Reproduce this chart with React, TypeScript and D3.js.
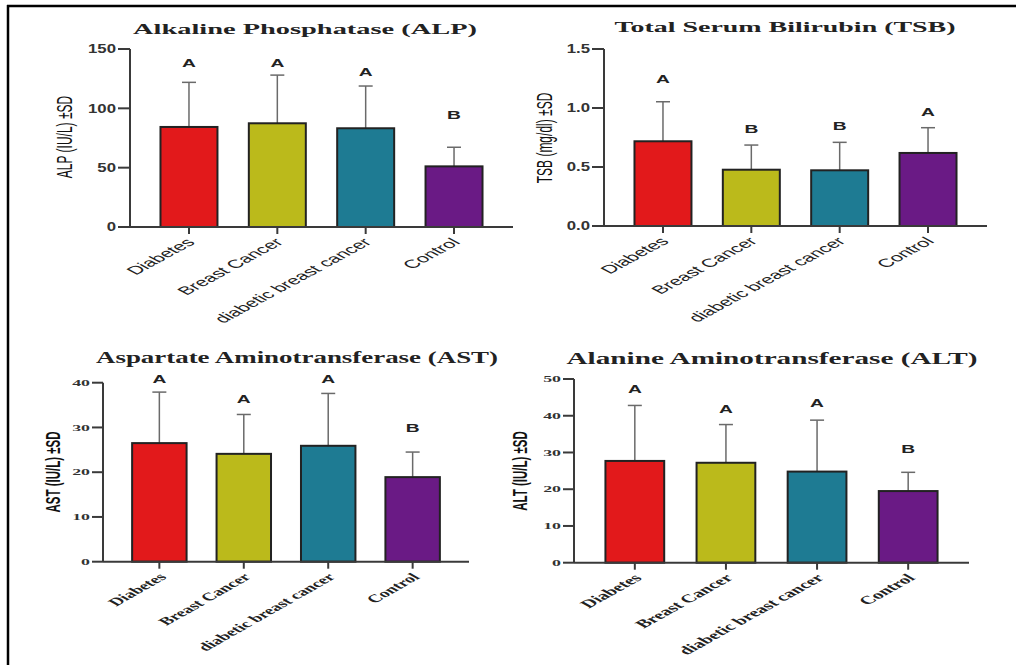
import React, { useEffect, useRef } from 'react';
import * as d3 from 'd3';

// groups shared by all four panels
const groups = ['Diabetes', 'Breast Cancer', 'diabetic breast cancer', 'Control'];
const barColors = ['#e2191b', '#bbba1b', '#1e7b93', '#6a1a85'];

// ALP
const alpMean = [84.3, 87.4, 83.2, 51.1];
const alpSD = [37.6, 40.6, 35.6, 16.1];
const alpLetters = ['A', 'A', 'A', 'B'];
const alpLetterAt = [138, 138, 131, 94];
const alpTicks = [0, 50, 100, 150];

// TSB
const tsbMean = [0.718, 0.477, 0.472, 0.619];
const tsbSD = [0.335, 0.209, 0.237, 0.214];
const tsbLetters = ['A', 'B', 'B', 'A'];
const tsbLetterAt = [1.25, 0.82, 0.85, 0.97];
const tsbTicks = [0, 0.5, 1.0, 1.5];

// AST
const astMean = [26.5, 24.1, 25.9, 18.9];
const astSD = [11.4, 8.8, 11.7, 5.6];
const astLetters = ['A', 'A', 'A', 'B'];
const astLetterAt = [40.8, 36.4, 40.8, 29.9];
const astTicks = [0, 10, 20, 30, 40];

// ALT
const altMean = [27.7, 27.2, 24.8, 19.5];
const altSD = [15.1, 10.4, 14.0, 5.1];
const altLetters = ['A', 'A', 'A', 'B'];
const altLetterAt = [47.3, 41.8, 43.5, 31.0];
const altTicks = [0, 10, 20, 30, 40, 50];

const sans = '"Liberation Sans", Arial, sans-serif';
const serif = '"Liberation Serif", "Times New Roman", serif';

const panels = [
    {
        title: 'Alkaline Phosphatase (ALP)', yLabel: 'ALP (IU/L) ±SD',
        mean: alpMean, sd: alpSD, letters: alpLetters, letterAt: alpLetterAt, ticks: alpTicks, fmt: d3.format('d'),
        x0: 130, x1: 513, yTop: 49, yBottom: 227,
        titleX: 305, titleY: 34, titleW: 344, titleSize: 15,
        yLabX: 72, yLabY: 137, yLabWeight: 'normal', yLabSize: 12,
        tickFont: sans, tickSize: 12, tickSx: 1.4, tickLen: 12,
        xFont: sans, xWeight: 'normal', xSize: 11.7, xSx: 1.85, xOff: 7,
    },
    {
        title: 'Total Serum Bilirubin (TSB)', yLabel: 'TSB (mg/dl) ±SD',
        mean: tsbMean, sd: tsbSD, letters: tsbLetters, letterAt: tsbLetterAt, ticks: tsbTicks, fmt: d3.format('.1f'),
        x0: 604, x1: 987, yTop: 49, yBottom: 226,
        titleX: 785, titleY: 32, titleW: 341, titleSize: 15,
        yLabX: 552, yLabY: 138, yLabWeight: 'normal', yLabSize: 12,
        tickFont: sans, tickSize: 12, tickSx: 1.4, tickLen: 12,
        xFont: sans, xWeight: 'normal', xSize: 11.7, xSx: 1.85, xOff: 7,
    },
    {
        title: 'Aspartate Aminotransferase (AST)', yLabel: 'AST (IU/L) ±SD',
        mean: astMean, sd: astSD, letters: astLetters, letterAt: astLetterAt, ticks: astTicks, fmt: d3.format('d'),
        x0: 103, x1: 469, yTop: 382.7, yBottom: 561.7,
        titleX: 297, titleY: 363, titleW: 402, titleSize: 16,
        yLabX: 60, yLabY: 472, yLabWeight: 'bold', yLabSize: 11.5,
        tickFont: serif, tickSize: 8.5, tickSx: 2.1, tickLen: 11,
        xFont: serif, xWeight: 'bold', xSize: 11.2, xSx: 1.76, xOff: 8,
    },
    {
        title: 'Alanine Aminotransferase (ALT)', yLabel: 'ALT (IU/L) ±SD',
        mean: altMean, sd: altSD, letters: altLetters, letterAt: altLetterAt, ticks: altTicks, fmt: d3.format('d'),
        x0: 574, x1: 969, yTop: 379, yBottom: 562.7,
        titleX: 772, titleY: 364, titleW: 411, titleSize: 16,
        yLabX: 527, yLabY: 471, yLabWeight: 'bold', yLabSize: 11.5,
        tickFont: serif, tickSize: 8.5, tickSx: 2.1, tickLen: 11,
        xFont: serif, xWeight: 'bold', xSize: 11.6, xSx: 1.8, xOff: 8,
    },
];

const Panel = ({ p }) => {
    const gRef = useRef();

    useEffect(() => {
        const g = d3.select(gRef.current);
        g.selectAll('*').remove();

        const data = groups.map((name, i) => ({
            name, mean: p.mean[i], sd: p.sd[i], letter: p.letters[i], at: p.letterAt[i], color: barColors[i]
        }));

        const xScale = d3.scaleBand()
            .domain(groups)
            .range([p.x0, p.x1])
            .paddingInner(0.355)
            .paddingOuter(0.345);

        const yScale = d3.scaleLinear()
            .domain([0, d3.max(p.ticks)])
            .range([p.yBottom, p.yTop]);

        const axisColor = '#3a3a3a';
        const mid = d => xScale(d) + xScale.bandwidth() / 2;

        // title
        g.append('text')
            .attr('x', p.titleX)
            .attr('y', p.titleY)
            .attr('text-anchor', 'middle')
            .attr('textLength', p.titleW)
            .attr('lengthAdjust', 'spacingAndGlyphs')
            .style('font-family', serif)
            .style('font-weight', 'bold')
            .style('font-size', p.titleSize + 'px')
            .attr('fill', '#222')
            .text(p.title);

        // y label
        g.append('text')
            .attr('transform', `translate(${p.yLabX},${p.yLabY}) scale(1.8,1) rotate(-90)`)
            .attr('text-anchor', 'middle')
            .style('font-family', sans)
            .style('font-weight', p.yLabWeight)
            .style('font-size', p.yLabSize + 'px')
            .attr('fill', '#111')
            .text(p.yLabel);

        // error bars (upper only)
        const err = g.selectAll('.err').data(data).join('g').attr('class', 'err');
        err.append('line')
            .attr('x1', d => mid(d.name))
            .attr('x2', d => mid(d.name))
            .attr('y1', d => yScale(d.mean))
            .attr('y2', d => yScale(d.mean + d.sd))
            .attr('stroke', '#6a6a6a')
            .attr('stroke-width', 1.5);
        err.append('line')
            .attr('x1', d => mid(d.name) - 7)
            .attr('x2', d => mid(d.name) + 7)
            .attr('y1', d => yScale(d.mean + d.sd))
            .attr('y2', d => yScale(d.mean + d.sd))
            .attr('stroke', '#6a6a6a')
            .attr('stroke-width', 1.5);

        // bars
        g.selectAll('.bar').data(data).join('rect')
            .attr('class', 'bar')
            .attr('x', d => xScale(d.name))
            .attr('y', d => yScale(d.mean))
            .attr('width', xScale.bandwidth())
            .attr('height', d => yScale(0) - yScale(d.mean))
            .attr('fill', d => d.color)
            .attr('stroke', '#222')
            .attr('stroke-width', 2);

        // letters
        g.selectAll('.letter').data(data).join('text')
            .attr('class', 'letter')
            .attr('transform', d => `translate(${mid(d.name)},${yScale(d.at) + 4}) scale(1.75,1)`)
            .attr('text-anchor', 'middle')
            .style('font-family', sans)
            .style('font-weight', 'bold')
            .style('font-size', '11px')
            .attr('fill', '#222')
            .text(d => d.letter);

        // y axis
        g.append('line')
            .attr('x1', p.x0).attr('x2', p.x0)
            .attr('y1', yScale(d3.max(p.ticks))).attr('y2', yScale(0))
            .attr('stroke', axisColor).attr('stroke-width', 2);
        const yt = g.selectAll('.ytick').data(p.ticks).join('g').attr('class', 'ytick');
        yt.append('line')
            .attr('x1', p.x0 - p.tickLen).attr('x2', p.x0)
            .attr('y1', d => yScale(d)).attr('y2', d => yScale(d))
            .attr('stroke', axisColor).attr('stroke-width', 2);
        yt.append('text')
            .attr('transform', d => `translate(${p.x0 - p.tickLen - 2},${yScale(d)}) scale(${p.tickSx},1)`)
            .attr('text-anchor', 'end')
            .attr('dy', '0.36em')
            .style('font-family', p.tickFont)
            .style('font-weight', 'bold')
            .style('font-size', p.tickSize + 'px')
            .attr('fill', '#333')
            .text(d => p.fmt(d));

        // x axis
        g.append('line')
            .attr('x1', p.x0).attr('x2', p.x1)
            .attr('y1', yScale(0)).attr('y2', yScale(0))
            .attr('stroke', axisColor).attr('stroke-width', 2);
        const xt = g.selectAll('.xtick').data(groups).join('g').attr('class', 'xtick');
        xt.append('line')
            .attr('x1', d => mid(d))
            .attr('x2', d => mid(d))
            .attr('y1', yScale(0)).attr('y2', yScale(0) + 7)
            .attr('stroke', axisColor).attr('stroke-width', 2);
        xt.append('text')
            .attr('transform', d => `translate(${mid(d) + p.xOff},${yScale(0) + 16}) scale(${p.xSx},1) rotate(-45)`)
            .attr('text-anchor', 'end')
            .style('font-family', p.xFont)
            .style('font-weight', p.xWeight)
            .style('font-size', p.xSize + 'px')
            .attr('fill', '#222')
            .text(d => d);
    }, [p]);

    return <g ref={gRef} />;
};

const App = () => {
    return (
        <svg width={1016} height={665} style={{ position: 'absolute', left: 0, top: 0, background: '#fff' }}>
            <rect x={0} y={0} width={1016} height={665} fill="#fff" />
            <line x1={7} x2={1016} y1={6} y2={6} stroke="#000" strokeWidth={2.5} />
            <line x1={8} x2={8} y1={5} y2={665} stroke="#000" strokeWidth={2.5} />
            {panels.map((p, i) => <Panel key={i} p={p} />)}
        </svg>
    );
};

export default App;
